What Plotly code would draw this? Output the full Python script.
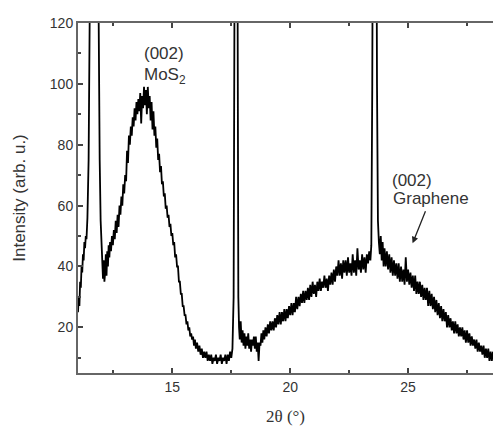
import plotly.graph_objects as go

two_theta = [
    11.00, 11.03, 11.06, 11.09, 11.12, 11.15, 11.18, 11.21, 11.24, 11.27, 11.30, 11.33, 11.36, 11.40, 11.45,
    11.50, 11.55, 11.62, 11.70, 11.78, 11.84, 11.88, 11.92, 11.96, 12.00, 12.03, 12.06, 12.09, 12.12, 12.15,
    12.18, 12.21, 12.24, 12.27, 12.30, 12.33, 12.36, 12.40, 12.44, 12.48, 12.52, 12.56, 12.60, 12.64, 12.68,
    12.72, 12.76, 12.80, 12.84, 12.88, 12.92, 12.96, 13.00, 13.04, 13.08, 13.12, 13.16, 13.20, 13.24, 13.28,
    13.32, 13.36, 13.40, 13.44, 13.48, 13.52, 13.56, 13.60, 13.64, 13.68, 13.72, 13.76, 13.80, 13.84, 13.88,
    13.92, 13.96, 14.00, 14.04, 14.08, 14.12, 14.16, 14.20, 14.24, 14.28, 14.32, 14.36, 14.40, 14.44, 14.48,
    14.52, 14.56, 14.60, 14.64, 14.68, 14.72, 14.76, 14.80, 14.84, 14.88, 14.92, 14.96, 15.00, 15.04, 15.08,
    15.12, 15.16, 15.20, 15.24, 15.28, 15.32, 15.36, 15.40, 15.44, 15.48, 15.52, 15.56, 15.60, 15.64, 15.68,
    15.72, 15.76, 15.80, 15.84, 15.88, 15.92, 15.96, 16.00, 16.05, 16.10, 16.15, 16.20, 16.25, 16.30, 16.35,
    16.40, 16.45, 16.50, 16.55, 16.60, 16.65, 16.70, 16.75, 16.80, 16.85, 16.90, 16.95, 17.00, 17.05, 17.10,
    17.15, 17.20, 17.25, 17.30, 17.35, 17.40, 17.45, 17.50, 17.55, 17.60, 17.63, 17.67, 17.70, 17.73, 17.77,
    17.80, 17.83, 17.86, 17.90, 17.94, 17.98, 18.02, 18.06, 18.10, 18.14, 18.18, 18.22, 18.26, 18.30, 18.34,
    18.38, 18.42, 18.46, 18.50, 18.54, 18.58, 18.62, 18.66, 18.70, 18.74, 18.78, 18.82, 18.86, 18.90, 18.95,
    19.00, 19.05, 19.10, 19.15, 19.20, 19.25, 19.30, 19.35, 19.40, 19.45, 19.50, 19.55, 19.60, 19.65, 19.70,
    19.75, 19.80, 19.85, 19.90, 19.95, 20.00, 20.05, 20.10, 20.15, 20.20, 20.25, 20.30, 20.35, 20.40, 20.45,
    20.50, 20.55, 20.60, 20.65, 20.70, 20.75, 20.80, 20.85, 20.90, 20.95, 21.00, 21.05, 21.10, 21.15, 21.20,
    21.25, 21.30, 21.35, 21.40, 21.45, 21.50, 21.55, 21.60, 21.65, 21.70, 21.75, 21.80, 21.85, 21.90, 21.95,
    22.00, 22.05, 22.10, 22.15, 22.20, 22.25, 22.30, 22.35, 22.40, 22.45, 22.50, 22.55, 22.60, 22.65, 22.70,
    22.75, 22.80, 22.85, 22.90, 22.95, 23.00, 23.05, 23.10, 23.15, 23.20, 23.25, 23.30, 23.35, 23.40, 23.44,
    23.48, 23.52, 23.58, 23.64, 23.68, 23.72, 23.76, 23.80, 23.84, 23.88, 23.92, 23.96, 24.00, 24.05, 24.10,
    24.15, 24.20, 24.25, 24.30, 24.35, 24.40, 24.45, 24.50, 24.55, 24.60, 24.65, 24.70, 24.75, 24.80, 24.85,
    24.90, 24.95, 25.00, 25.05, 25.10, 25.15, 25.20, 25.25, 25.30, 25.35, 25.40, 25.45, 25.50, 25.55, 25.60,
    25.65, 25.70, 25.75, 25.80, 25.85, 25.90, 25.95, 26.00, 26.05, 26.10, 26.15, 26.20, 26.25, 26.30, 26.35,
    26.40, 26.45, 26.50, 26.55, 26.60, 26.65, 26.70, 26.75, 26.80, 26.85, 26.90, 26.95, 27.00, 27.05, 27.10,
    27.15, 27.20, 27.25, 27.30, 27.35, 27.40, 27.45, 27.50, 27.55, 27.60, 27.65, 27.70, 27.75, 27.80, 27.85,
    27.90, 27.95, 28.00, 28.05, 28.10, 28.15, 28.20, 28.25, 28.30, 28.35, 28.40, 28.45, 28.50, 28.55, 28.60,
]

intensity = [
    25, 30, 27, 35, 33, 40, 38, 44, 42, 48, 46, 50, 49, 56, 75,
    110, 160, 260, 330, 260, 160, 110, 75, 55, 44, 40, 36, 42, 35, 38,
    44, 37, 45, 40, 47, 43, 48, 45, 50, 47, 52, 49, 55, 51, 57,
    53, 60, 57, 63, 60, 67, 64, 70, 68, 78, 74, 83, 80, 86, 83,
    89, 86, 92, 88, 94, 90, 95, 91, 97, 87, 96, 92, 99, 93, 98,
    90, 99, 92, 96, 88, 94, 85, 91, 83, 86, 79, 82, 75, 77, 71,
    73, 67, 68, 63, 64, 59, 60, 56, 57, 53, 54, 50, 51, 47, 48,
    43, 44, 40, 40, 35, 35, 31, 31, 27, 27, 24, 24, 21, 22, 19,
    20, 17, 18, 16, 17, 14, 16, 13, 15, 12, 14, 11, 13, 10, 12,
    10, 12, 9, 11, 9, 11, 8, 10, 9, 11, 8, 10, 9, 11, 8,
    10, 9, 11, 8, 11, 9, 12, 10, 13, 30, 110, 250, 300, 250, 110,
    30, 20, 16, 22, 15, 19, 14, 18, 13, 17, 14, 18, 13, 16, 12,
    16, 14, 17, 13, 17, 12, 15, 9, 15, 14, 18, 15, 19, 16, 20,
    17, 21, 18, 22, 19, 22, 19, 23, 20, 24, 21, 25, 21, 25, 22,
    26, 22, 26, 23, 27, 24, 28, 24, 28, 25, 30, 26, 30, 27, 31,
    28, 32, 28, 32, 29, 33, 29, 34, 30, 35, 31, 34, 30, 35, 32,
    36, 32, 35, 33, 37, 33, 36, 32, 37, 34, 38, 34, 39, 35, 40,
    37, 42, 37, 41, 36, 42, 38, 42, 37, 43, 38, 41, 37, 44, 38,
    42, 37, 46, 39, 42, 38, 44, 39, 43, 38, 44, 41, 45, 42, 47,
    100, 200, 300, 200, 100, 55, 48, 44, 50, 42, 48, 40, 46, 40, 45,
    39, 44, 38, 43, 37, 42, 37, 41, 36, 41, 35, 40, 35, 39, 34,
    43, 35, 39, 34, 38, 33, 37, 32, 37, 31, 35, 31, 35, 30, 34,
    29, 33, 29, 33, 27, 32, 27, 31, 26, 30, 25, 29, 24, 28, 23,
    27, 22, 26, 22, 25, 20, 24, 20, 23, 19, 22, 18, 22, 18, 21,
    17, 20, 17, 20, 16, 19, 15, 19, 15, 18, 14, 17, 14, 16, 13,
    16, 12, 15, 12, 14, 11, 14, 10, 13, 10, 13, 9, 12, 9, 12,
]

x_tick_vals = [15, 20, 25]
y_tick_vals = [20, 40, 60, 80, 100, 120]

fig = go.Figure()
fig.add_trace(go.Scatter(
    x=two_theta, y=intensity, mode="lines",
    line=dict(color="black", width=1.8), showlegend=False,
))

axis_font = dict(family="Liberation Sans, Arial", size=14, color="#333")
fig.update_layout(
    width=493, height=426,
    margin=dict(l=78, r=0, t=23, b=53),
    plot_bgcolor="white", paper_bgcolor="white",
    xaxis=dict(
        range=[11, 28.6], tickvals=x_tick_vals, ticks="inside", ticklen=5, tickwidth=1.5,
        tickcolor="#444", showgrid=False, zeroline=False, showline=True, linecolor="#666",
        linewidth=2, mirror="ticks", tickfont=axis_font,
        minor=dict(tickvals=[12.5, 17.5, 22.5, 27.5], ticks="inside", ticklen=3, tickcolor="#444"),
        title=dict(text="2θ (°)", font=dict(family="Liberation Serif, Times New Roman", size=17, color="#333"), standoff=17),
    ),
    yaxis=dict(
        range=[5, 120], tickvals=y_tick_vals, ticks="inside", ticklen=5, tickwidth=1.5,
        tickcolor="#444", showgrid=False, zeroline=False, showline=True, linecolor="#666",
        linewidth=2, tickfont=axis_font,
        minor=dict(tickvals=[10, 30, 50, 70, 90, 110], ticks="inside", ticklen=3, tickcolor="#444"),
        title=dict(text="Intensity (arb. u.)", font=dict(family="Liberation Sans, Arial", size=17, color="#333"), standoff=20),
    ),
)

ann_font = dict(family="Liberation Sans, Arial", size=17, color="#333")
fig.add_annotation(x=13.71, y=110.1, text="(002)", showarrow=False, xanchor="left", yanchor="middle", font=ann_font)
fig.add_annotation(x=13.71, y=102.5, text="MoS<sub>2</sub>", showarrow=False, xanchor="left", yanchor="middle", font=ann_font)
fig.add_annotation(x=24.22, y=68.4, text="(002)", showarrow=False, xanchor="left", yanchor="middle", font=ann_font)
fig.add_annotation(x=25.19, y=47.6, ax=18, ay=-45, text="Graphene", showarrow=True, font=ann_font,
                   arrowhead=2, arrowsize=1, arrowwidth=1.3, arrowcolor="#222", standoff=0, startstandoff=2)

fig.write_html("out.html", config={"displayModeBar": False},
               post_script="document.body.style.margin='0';")
